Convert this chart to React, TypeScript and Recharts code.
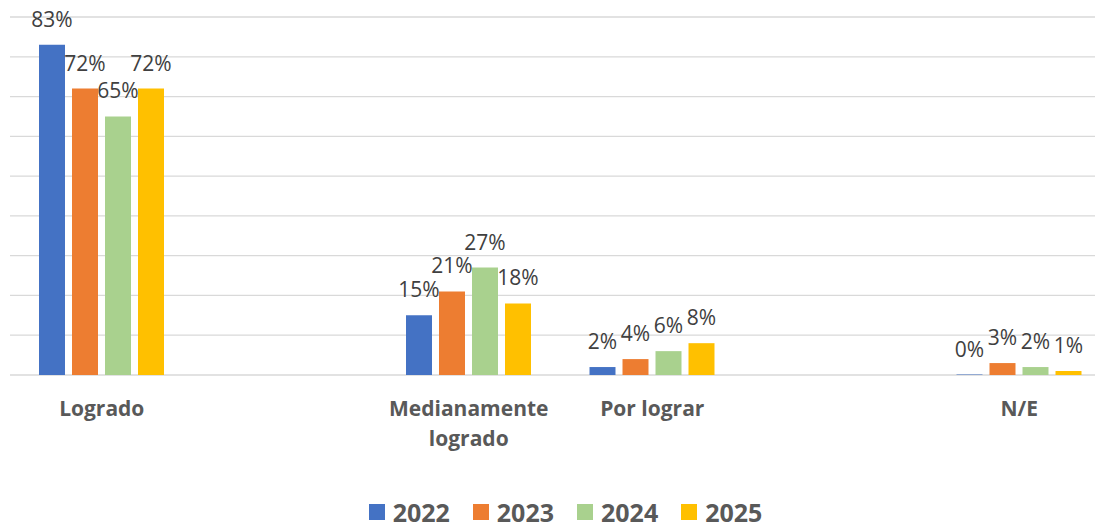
import { BarChart, Bar, CartesianGrid, XAxis, YAxis, Legend, LabelList, Text } from "recharts";

const categories = ["Logrado", "", "Medianamente logrado", "Por lograr", "", "N/E"];
const y2022 = [83, null, 15, 2, null, 0];
const y2023 = [72, null, 21, 4, null, 3];
const y2024 = [65, null, 27, 6, null, 2];
const y2025 = [72, null, 18, 8, null, 1];
const yTicks = [0, 10, 20, 30, 40, 50, 60, 70, 80, 90];

const series = [
  { key: "2022", values: y2022, color: "#4472C4" },
  { key: "2023", values: y2023, color: "#ED7D31" },
  { key: "2024", values: y2024, color: "#A9D18E" },
  { key: "2025", values: y2025, color: "#FFC000" },
];

const data = categories.map((name, i) => {
  const row: Record<string, any> = { name };
  series.forEach((s) => {
    row[s.key] = s.values[i];
  });
  return row;
});

const font = "'Open Sans', sans-serif";

function CategoryTick(props: any) {
  const { x, y, payload } = props;
  const style = { fontSize: 21, fontWeight: "bold", fontFamily: font };
  return (
    <Text
      x={x}
      y={y}
      width={180}
      textAnchor="middle"
      verticalAnchor="start"
      lineHeight={30}
      fill="#595959"
      style={style}
      fontSize={21}
      fontWeight="bold"
      fontFamily={font}
    >
      {payload.value}
    </Text>
  );
}

function LegendContent() {
  return (
    <div
      style={{
        height: 24,
        display: "flex",
        justifyContent: "center",
        alignItems: "center",
        paddingLeft: 10,
        fontFamily: font,
      }}
    >
      {series.map((s, i) => (
        <div
          key={s.key}
          style={{ display: "flex", alignItems: "center", marginRight: i < series.length - 1 ? 23 : 0 }}
        >
          <div style={{ width: 16, height: 16, background: s.color, marginRight: 8 }} />
          <span
            style={{
              display: "block",
              height: 24,
              fontSize: 25,
              fontWeight: "bold",
              color: "#595959",
              lineHeight: "24px",
            }}
          >
            {s.key}
          </span>
        </div>
      ))}
    </div>
  );
}

export default function App() {
  return (
    <div
      style={{
        marginTop: -8,
        marginLeft: -8,
        width: 1103,
        height: 529,
        overflow: "hidden",
        background: "#ffffff",
      }}
    >
      <BarChart
        width={1120}
        height={529}
        data={data}
        margin={{ top: 17, right: 9, left: 10, bottom: 5 }}
        barSize={26}
        barGap={7}
        style={{ fontFamily: font }}
      >
        <CartesianGrid vertical={false} stroke="#d9d9d9" strokeWidth={1.3} />
        <XAxis
          dataKey="name"
          axisLine={false}
          tickLine={false}
          tickSize={0}
          tickMargin={26}
          height={125}
          interval={0}
          tick={<CategoryTick />}
        />
        <YAxis hide domain={[0, 90]} ticks={yTicks} />
        <Legend verticalAlign="bottom" content={<LegendContent />} />
        {series.map((s) => (
          <Bar
            key={s.key}
            dataKey={s.key}
            fill={s.color}
            isAnimationActive={false}
            minPointSize={(v: any) => (v === 0 ? 0.5 : 0)}
          >
            <LabelList
              dataKey={s.key}
              position="top"
              offset={18}
              fill="#404040"
              fontSize={21}
              fontFamily={font}
              formatter={(v: any) => (v === null || v === undefined ? "" : `${v}%`)}
            />
          </Bar>
        ))}
      </BarChart>
    </div>
  );
}
